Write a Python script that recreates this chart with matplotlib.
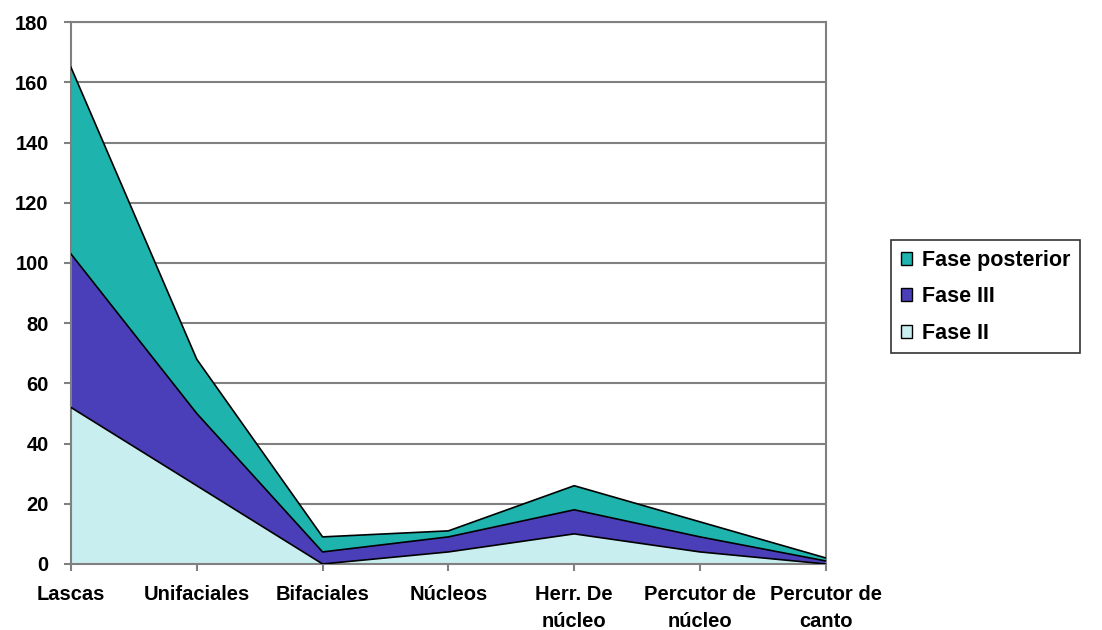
import numpy as np
import matplotlib.pyplot as plt
from matplotlib.patches import Patch

# Piezas por categoría y fase
categorias = ["Lascas", "Unifaciales", "Bifaciales", "Núcleos",
              "Herr. De\nnúcleo", "Percutor de\nnúcleo", "Percutor de\ncanto"]
fase_ii = [52, 26, 0, 4, 10, 4, 0]
fase_iii = [51, 24, 4, 5, 8, 5, 1]
fase_posterior = [62, 18, 5, 2, 8, 5, 1]

color_ii = "#c9eef0"
color_iii = "#4a3eb9"
color_post = "#1fb3ae"

plt.rcParams['font.family'] = ['Liberation Sans', 'DejaVu Sans']
plt.rcParams['font.weight'] = 'bold'
tam = 14.5

fig = plt.figure(figsize=(11.02, 6.30), dpi=100)
ax = fig.add_axes([0.0644, 0.1048, 0.685, 0.860])

x = np.arange(len(categorias))
ax.stackplot(x, fase_ii, fase_iii, fase_posterior,
             colors=[color_ii, color_iii, color_post], zorder=2)

# bordes negros entre capas
acum = np.cumsum([fase_ii, fase_iii, fase_posterior], axis=0)
for fila in acum:
    ax.plot(x, fila, color="black", lw=1.2, zorder=3)

ax.set_xlim(0, len(categorias) - 1)
ax.set_ylim(0, 180)
ax.set_yticks(np.arange(0, 181, 20))
ax.set_xticks(x)
ax.set_xticklabels(categorias, fontsize=tam, fontweight='bold', linespacing=1.55)
ax.tick_params(axis='y', labelsize=tam, length=5, color="#808080", width=1.5, pad=11)
ax.tick_params(axis='x', length=5, color="#808080", width=1.5, pad=10)

ax.grid(axis='y', color="#808080", lw=1.5, zorder=1)
for lado in ax.spines.values():
    lado.set_color("#808080")
    lado.set_linewidth(1.5)

handles = [Patch(facecolor=color_post, edgecolor="black", label="Fase posterior"),
           Patch(facecolor=color_iii, edgecolor="black", label="Fase III"),
           Patch(facecolor=color_ii, edgecolor="black", label="Fase II")]
leg = fig.legend(handles=handles, loc="upper left", bbox_to_anchor=(0.8085, 0.619),
                 borderaxespad=0, fontsize=15.5, frameon=True, fancybox=False,
                 handlelength=0.55, handleheight=0.55, handletextpad=0.45,
                 borderpad=0.45, labelspacing=0.72)
leg.get_frame().set_edgecolor("black")
leg.get_frame().set_linewidth(1.2)

fig.savefig("out.png", dpi=100)
